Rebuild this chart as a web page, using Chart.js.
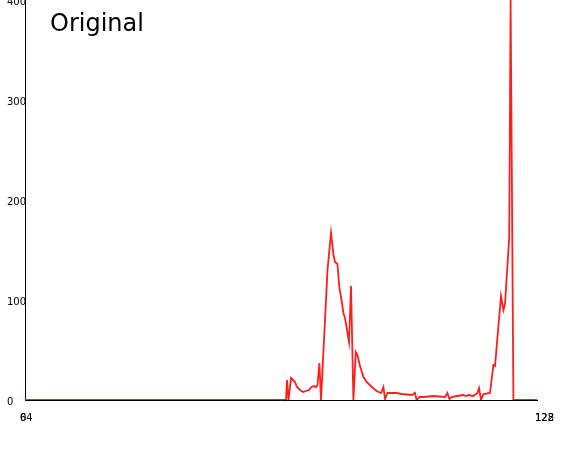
<!DOCTYPE html>
<html lang="en">
<head>
    <meta charset="UTF-8">
    <title>Original</title>
    <script src="https://cdn.jsdelivr.net/npm/chart.js"></script>
    <style>
        body { margin: 0; background: #fff; }
        #wrap { width: 562px; height: 450px; }
    </style>
</head>
<body>
<div id="wrap">
    <canvas id="myChart" width="562" height="450"></canvas>
</div>
<script>
    // bin positions (x) and counts (y)
    const binX = [0, 65.25, 65.5, 65.875, 66.5, 67, 67.5, 68, 68.75, 69.5, 70.25, 71, 71.625, 72.25, 72.75, 73.125, 73.6, 74,
        75.625, 76.5, 77.125, 77.5, 78.1, 78.6, 79.2, 79.6, 80, 81, 81.5, 82.1, 82.7, 83.1, 83.75, 84.6, 85.4, 86.7, 87.9,
        89, 89.6, 90, 90.6, 92.9, 94.2, 96.7, 97.5, 97.9, 98.6, 99.6, 102.1, 105, 105.6, 106.1, 106.7, 107.9, 109.6, 110.25,
        110.8, 112.1, 113.1, 113.5, 114, 114.6, 116.25, 117.1, 117.5, 119, 119.6, 120, 121.05, 121.4, 122.1, 128];
    const counts = [0, 0, 20, 0, 22, 20, 18, 13, 10, 8, 9, 10, 13, 14, 13, 15, 37, 0,
        130, 167, 145, 138, 136, 112, 98, 87, 82, 58, 114, 0, 48, 45, 34, 23, 18, 13, 9,
        7, 13, 1, 7, 7, 6, 5, 7, 0, 3, 3, 4, 3, 7, 1, 3, 4, 5, 4,
        5, 4, 7, 12, 0, 6, 7, 35, 34, 104, 90, 96, 162, 400, 0, 0];

    const yTicks = [0, 100, 200, 300, 400];
    const xLabelsLeft = ['0', '64'];
    const xLabelsRight = ['122', '128'];
    const titleText = 'Original';

    const points = binX.map((x, i) => ({ x: x, y: counts[i] }));

    const extraText = {
        id: 'extraText',
        afterDraw(chart) {
            const ctx = chart.ctx;
            const xs = chart.scales.x;
            ctx.save();
            ctx.fillStyle = '#000';
            ctx.textBaseline = 'middle';
            ctx.textAlign = 'left';
            ctx.font = '10px "DejaVu Sans"';
            const xl = xs.getPixelForValue(xs.min) - 5;
            const xr = xs.getPixelForValue(xs.max) - 2;
            xLabelsLeft.forEach(t => ctx.fillText(t, xl, 418));
            xLabelsRight.forEach(t => ctx.fillText(t, xr, 418));
            ctx.font = '24px "DejaVu Sans"';
            ctx.textBaseline = 'alphabetic';
            ctx.fillText(titleText, 50, 31);
            ctx.restore();
        }
    };

    const ctx = document.getElementById('myChart').getContext('2d');
    new Chart(ctx, {
        type: 'line',
        data: {
            datasets: [{
                data: points,
                borderColor: 'rgb(255, 30, 30)',
                borderWidth: 1.8,
                pointRadius: 0,
                tension: 0,
                fill: false
            }]
        },
        options: {
            responsive: false,
            animation: false,
            layout: { padding: { left: 7, right: 25, top: 0, bottom: 50 } },
            plugins: { legend: { display: false }, tooltip: { enabled: false } },
            scales: {
                x: {
                    type: 'linear',
                    min: 0,
                    max: 128,
                    grid: { display: false, drawTicks: false },
                    border: { display: true, color: '#000', width: 1 },
                    ticks: { display: false },
                    afterFit: s => { s.height = 0; }
                },
                y: {
                    min: 0,
                    max: 400,
                    grid: { display: false, drawTicks: false },
                    border: { display: true, color: '#000', width: 1 },
                    afterBuildTicks: s => { s.ticks = yTicks.map(v => ({ value: v })); },
                    ticks: {
                        autoSkip: false,
                        crossAlign: 'far',
                        labelOffset: 2,
                        color: '#000',
                        font: { family: 'DejaVu Sans', size: 10 }
                    },
                    afterFit: s => { s.width = 18; s.paddingTop = 0; s.paddingBottom = 0; }
                }
            }
        },
        plugins: [extraText]
    });
</script>
</body>
</html>
